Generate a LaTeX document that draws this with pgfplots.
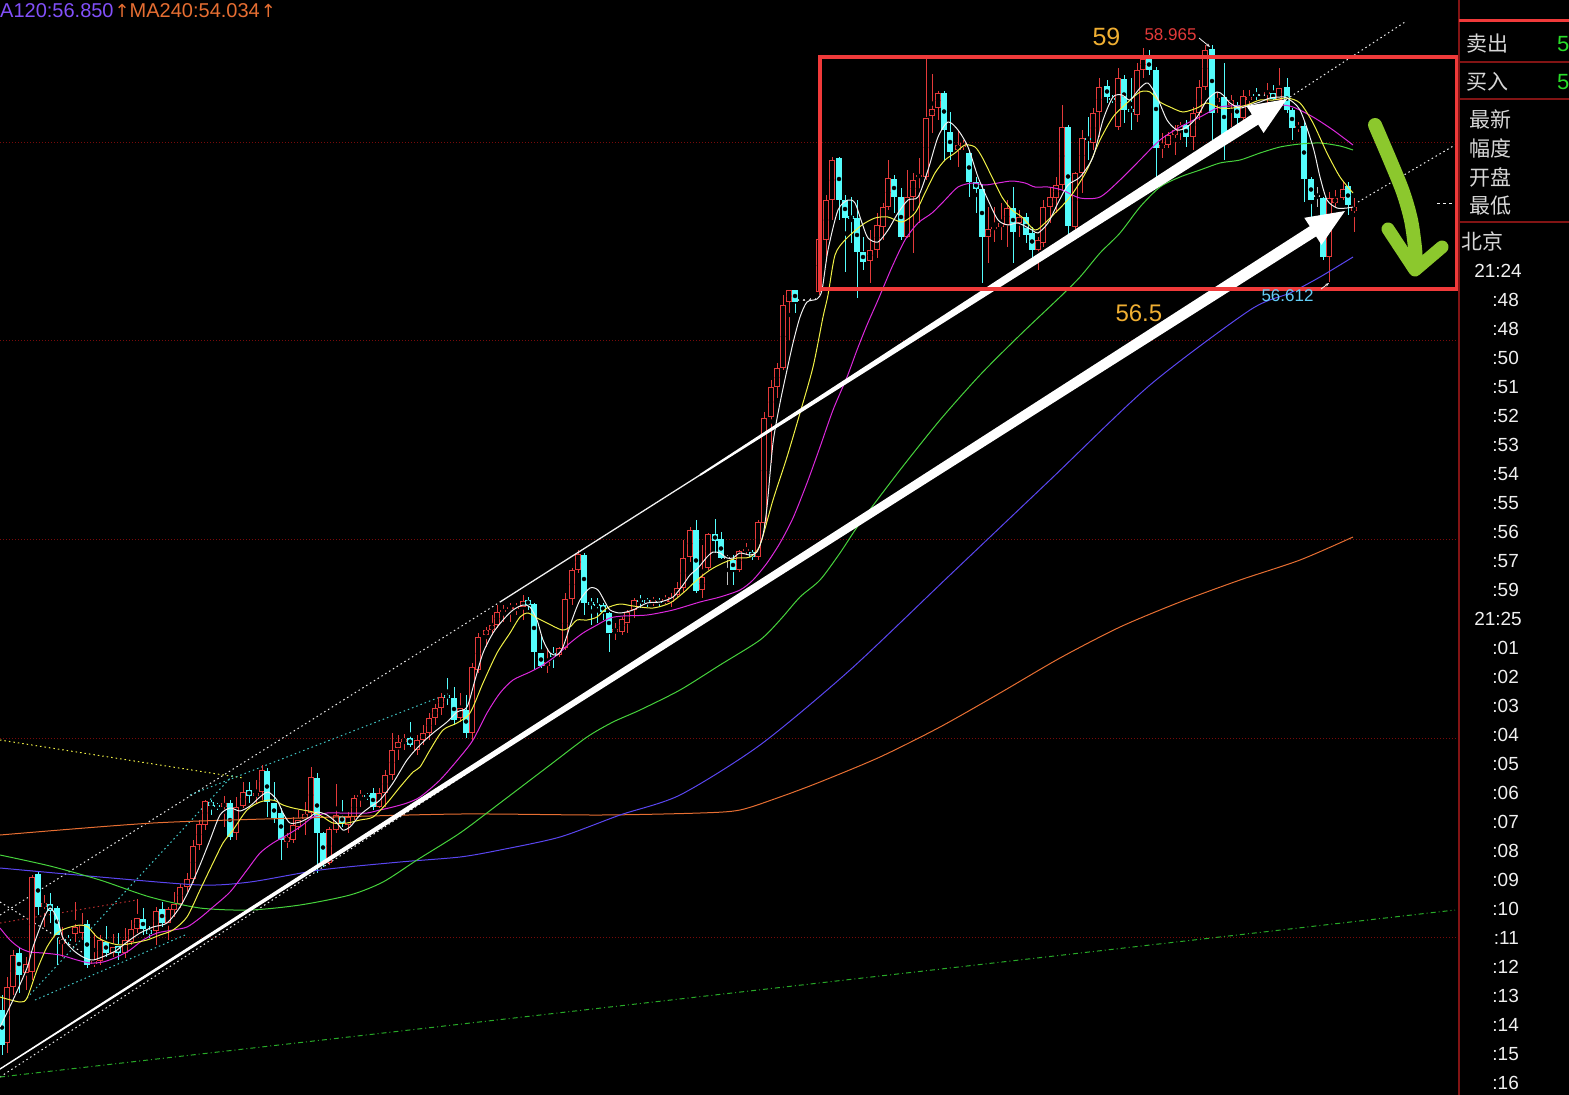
\documentclass[border=0pt]{standalone}
\usepackage{pgfplots}
\pgfplotsset{compat=1.18}
\usepackage{pgfplotstable}
\usetikzlibrary{arrows.meta}
\usepackage{fontspec}
\setmainfont{Liberation Sans}
\newfontfamily\cjk{Noto Sans CJK SC}
\newfontfamily\dejavu{DejaVu Sans}
\newcommand{\fs}[1]{\fontsize{#1pt}{#1pt}\selectfont}
\definecolor{cR}{RGB}{228,58,58}
\definecolor{cC}{RGB}{84,252,252}
\definecolor{cW}{RGB}{240,240,240}
\definecolor{cY}{RGB}{240,240,70}
\definecolor{cM}{RGB}{220,40,220}
\definecolor{cG}{RGB}{70,210,60}
\definecolor{cB}{RGB}{90,70,240}
\definecolor{cO}{RGB}{230,110,50}
\definecolor{cGrid}{RGB}{120,10,10}
\definecolor{cBox}{RGB}{240,58,58}
\definecolor{cArrow}{RGB}{140,200,45}
\definecolor{cGold}{RGB}{240,175,50}
\definecolor{cLab}{RGB}{100,205,245}
\definecolor{cPur}{RGB}{130,80,250}
\definecolor{cTxt}{RGB}{215,215,215}
\definecolor{cPan}{RGB}{130,20,20}
\definecolor{cGn}{RGB}{40,220,40}
\definecolor{cDot}{RGB}{40,170,40}

\pgfplotstableread{
x top bot hi lo t
2 1010 1045 995 1055 0
7 987 1043 977 1053 1
13 955 987 950 995 1
19 953 975 948 993 0
26 964 973 957 990 1
32 877 972 875 980 1
38 874 907 872 915 0
44 903 907 895 927 1
50 904 911 893 923 0
57 908 935 906 965 0
62 940 944 927 957 1
68 939 941 935 945 0
75 927 934 902 942 1
82 925 933 913 940 1
87 924 965 920 968 0
94 961 964 933 967 1
100 940 961 935 965 1
106 942 953 926 957 0
113 947 953 934 957 1
118 946 953 933 960 0
125 940 953 928 958 1
131 929 942 920 945 1
137 918 929 899 933 1
143 919 929 908 935 0
149 930 934 926 938 0
156 911 931 907 945 1
162 909 923 902 927 0
168 909 923 907 940 1
174 904 910 892 917 1
180 887 904 884 908 1
187 879 887 873 892 1
193 846 879 840 883 1
199 824 845 820 850 1
205 801 825 800 830 1
211 802 806 800 815 0
217 805 807 803 810 0
224 803 807 796 827 1
230 803 837 800 840 0
236 807 833 797 840 1
243 792 806 782 808 1
249 790 796 782 803 0
256 793 796 780 803 1
262 770 792 765 800 1
267 771 802 768 817 0
274 803 818 782 823 0
281 813 840 808 860 0
287 837 842 833 848 1
293 825 840 817 843 1
298 820 827 810 830 1
305 814 819 802 835 1
311 777 813 767 818 1
317 778 833 773 873 0
323 833 862 832 867 0
329 829 863 827 865 1
336 815 830 784 833 1
342 816 823 800 827 0
348 817 825 812 833 1
354 798 817 795 820 1
360 795 797 790 807 1
367 795 797 793 800 0
373 793 807 788 810 0
379 793 807 788 808 1
385 775 793 770 807 1
392 750 775 733 780 1
398 742 748 735 760 1
404 739 742 734 750 1
410 738 745 722 747 0
417 740 750 735 755 1
423 733 740 725 745 1
429 718 733 713 740 1
435 708 718 704 725 1
441 697 708 693 715 1
447 695 698 678 705 0
454 698 720 687 725 0
460 708 718 693 722 1
466 710 733 695 738 0
472 667 733 663 740 1
478 637 670 633 673 1
486 630 635 627 647 1
492 625 630 615 635 1
497 612 625 605 628 1
503 610 612 605 622 1
510 607 608 603 622 1
516 607 608 603 615 1
523 601 607 595 620 1
528 600 605 597 610 0
534 604 652 603 670 0
541 653 666 635 668 0
547 662 666 648 673 1
553 653 657 647 668 0
559 648 655 647 657 1
565 599 648 593 650 1
572 570 599 568 605 1
578 554 570 550 573 1
584 555 603 553 615 0
591 602 605 598 625 0
597 604 606 598 623 0
603 605 612 603 620 0
609 613 633 612 652 0
615 629 632 623 640 1
622 619 632 617 635 1
627 612 623 610 633 1
634 600 610 598 618 1
640 600 601 595 608 0
647 600 603 598 607 0
653 600 602 597 606 1
659 601 603 598 606 0
665 599 602 595 604 1
671 597 602 593 607 1
677 588 595 582 598 1
683 558 588 540 593 1
690 530 557 527 562 1
696 530 591 520 593 0
702 577 590 545 598 1
708 534 568 533 570 1
715 534 541 519 553 0
721 539 558 532 559 0
727 557 559 555 585 2
733 560 570 555 585 0
739 551 570 550 572 1
746 549 551 543 555 1
752 552 557 550 560 0
758 522 557 520 560 1
764 418 523 412 527 1
771 387 417 380 463 1
777 368 387 363 398 1
783 305 368 295 370 1
789 290 302 290 340 1
795 290 302 290 313 0
801 299 300 298 301 2
807 299 300 298 301 2
813 298 299 297 300 2
819 239 292 235 295 1
826 200 240 195 262 1
832 160 200 157 220 1
839 158 200 157 220 0
845 200 218 195 272 0
851 216 219 197 243 0
857 218 252 200 298 0
863 252 262 237 270 0
870 250 261 230 283 1
877 225 250 213 258 1
883 207 227 203 240 1
888 178 207 160 210 1
894 179 197 175 213 0
901 197 237 188 240 0
907 197 237 170 238 1
913 180 197 173 253 1
919 175 177 158 223 1
926 118 177 58 180 1
932 109 116 74 133 1
938 93 108 91 120 1
944 93 130 91 160 0
950 132 152 112 160 0
958 145 150 130 167 1
963 143 147 140 150 1
969 153 182 150 197 0
976 182 189 177 213 0
982 189 237 185 283 0
988 229 237 207 263 1
994 227 229 207 242 1
1001 223 227 203 240 1
1007 208 225 200 247 1
1013 208 232 187 263 0
1019 217 223 210 237 1
1026 217 235 213 243 0
1032 233 250 227 263 0
1038 240 250 237 270 1
1043 207 243 200 247 1
1050 197 207 187 223 1
1056 185 198 177 213 1
1062 127 185 105 190 1
1068 127 226 125 235 0
1075 173 227 172 230 1
1082 138 173 130 193 1
1088 138 140 117 160 0
1093 113 143 108 150 1
1099 87 112 78 137 1
1107 86 97 80 103 0
1112 98 100 95 103 0
1118 78 127 68 130 1
1124 79 110 75 123 0
1131 109 112 78 130 0
1137 70 115 63 122 1
1143 59 70 48 78 1
1149 59 70 50 75 0
1156 70 148 67 180 0
1162 145 148 133 158 1
1168 135 145 132 148 1
1175 130 135 125 155 1
1180 125 130 122 140 1
1186 125 137 120 147 0
1193 113 137 107 150 1
1199 87 113 80 120 1
1205 50 87 45 90 1
1212 49 113 45 140 0
1217 98 102 92 113 1
1224 97 137 63 160 0
1231 100 105 95 127 1
1237 105 118 102 125 0
1243 96 118 90 120 1
1249 97 100 90 107 1
1256 94 96 88 100 0
1262 94 95 92 96 2
1267 92 93 83 103 1
1273 93 99 85 100 0
1279 88 100 68 107 1
1287 87 110 78 113 0
1292 110 128 108 140 0
1298 126 128 122 132 1
1304 126 179 122 202 0
1311 179 200 177 227 0
1317 195 196 187 207 2
1323 198 257 197 260 0
1329 198 257 192 282 1
1335 198 203 190 207 1
1343 189 198 182 200 1
1348 186 205 182 215 0
1354 207 211 198 232 1
}\candles

\pgfplotsset{
  wick/.style 2 args={only marks, mark=none, forget plot,
    restrict expr to domain={\thisrow{t}}{#1:#1},
    error bars/.cd, y dir=both, y explicit, error mark=none,
    error bar style={line width=1pt, draw=#2, solid}},
  body/.style 2 args={only marks, mark=none, forget plot,
    restrict expr to domain={\thisrow{t}}{#1:#1},
    error bars/.cd, y dir=both, y explicit, error mark=none,
    error bar style={line width=5.5pt, draw=#2, solid}},
  inner/.style={only marks, mark=none, forget plot,
    restrict expr to domain={\thisrow{t}}{1:1},
    error bars/.cd, y dir=both, y explicit, error mark=none,
    error bar style={line width=3.5pt, draw=black, solid}},
  ma/.style={line width=1pt, smooth, tension=0.45, no marks, forget plot},
}

\begin{document}
\begin{tikzpicture}
\begin{axis}[width=1569pt, height=1095pt, scale only axis,
  xmin=0, xmax=1569, ymin=0, ymax=1095, y dir=reverse, hide axis,
  clip=true, clip mode=individual]
\fill[black] (rel axis cs:0,0) rectangle (rel axis cs:1,1);

% grid
\addplot[cGrid, line width=1pt, dash pattern=on 1pt off 2pt, forget plot] coordinates {(0,142) (1457,142)};
\addplot[cGrid, line width=1pt, dash pattern=on 1pt off 2pt, forget plot] coordinates {(0,340) (1457,340)};
\addplot[cGrid, line width=1pt, dash pattern=on 1pt off 2pt, forget plot] coordinates {(0,539) (1457,539)};
\addplot[cGrid, line width=1pt, dash pattern=on 1pt off 2pt, forget plot] coordinates {(0,738) (1457,738)};
\addplot[cGrid, line width=1pt, dash pattern=on 1pt off 2pt, forget plot] coordinates {(0,937) (1457,937)};

% dotted trend lines
\addplot[cW, line width=1pt, dash pattern=on 1.5pt off 3pt, forget plot] coordinates {(0,915) (500,602)};
\addplot[cW, line width=1pt, dash pattern=on 1.5pt off 3pt, forget plot] coordinates {(1290,97) (1405,22)};
\addplot[cW, line width=1pt, dash pattern=on 1.5pt off 3pt, forget plot] coordinates {(1358,202) (1455,145)};
\addplot[cW, line width=1pt, dash pattern=on 3pt off 3pt, forget plot] coordinates {(1437,203) (1456,203)};
\addplot[cW, line width=1pt, dash pattern=on 1.5pt off 3pt, forget plot] coordinates {(0,1077) (700,622)};
\addplot[cW, line width=1pt, dash pattern=on 1.5pt off 3pt, forget plot] coordinates {(0,902) (90,957)};
\addplot[cY, line width=1pt, dash pattern=on 1.5pt off 3pt, forget plot] coordinates {(0,740) (243,778)};
\addplot[cR!80!black, line width=1pt, dash pattern=on 1.5pt off 3pt, forget plot] coordinates {(0,923) (137,900)};
\addplot[cC!80!black, line width=1pt, dash pattern=on 1.5pt off 3pt, forget plot] coordinates {(27,998) (233,775)};
\addplot[cC!80!black, line width=1pt, dash pattern=on 1.5pt off 3pt, forget plot] coordinates {(190,795) (440,697)};
\addplot[cC!80!black, line width=1pt, dash pattern=on 1.5pt off 3pt, forget plot] coordinates {(35,1000) (185,935)};
\addplot[cDot, line width=1pt, dash pattern=on 5pt off 3pt on 1pt off 3pt, forget plot] coordinates {(0,1077) (1455,910)};

% candles
\addplot[wick={1}{cR}] table[x=x, y expr={(\thisrow{hi}+\thisrow{lo})/2}, y error expr={(\thisrow{lo}-\thisrow{hi})/2}] {\candles};
\addplot[wick={0}{cC}] table[x=x, y expr={(\thisrow{hi}+\thisrow{lo})/2}, y error expr={(\thisrow{lo}-\thisrow{hi})/2}] {\candles};
\addplot[wick={2}{cW!80!black}] table[x=x, y expr={(\thisrow{hi}+\thisrow{lo})/2}, y error expr={(\thisrow{lo}-\thisrow{hi})/2}] {\candles};
\addplot[body={1}{cR}] table[x=x, y expr={(\thisrow{top}+\thisrow{bot})/2}, y error expr={max((\thisrow{bot}-\thisrow{top})/2,0.7)}] {\candles};
\addplot[inner] table[x=x, y expr={(\thisrow{top}+\thisrow{bot})/2}, y error expr={max((\thisrow{bot}-\thisrow{top})/2-1,0)}] {\candles};
\addplot[body={0}{cC}] table[x=x, y expr={(\thisrow{top}+\thisrow{bot})/2}, y error expr={max((\thisrow{bot}-\thisrow{top})/2,0.7)}] {\candles};
\addplot[body={2}{cW!85!black}] table[x=x, y expr={(\thisrow{top}+\thisrow{bot})/2}, y error expr={max((\thisrow{bot}-\thisrow{top})/2,0.7)}] {\candles};

% moving averages
\addplot[ma, cO] coordinates {(0,835) (153,823) (300,818) (460,814) (600,815) (700,813) (740,810) (780,797) (820,782) (880,757) (940,727) (1000,693) (1060,658) (1120,627) (1180,602) (1240,580) (1300,560) (1353,537)};
\addplot[ma, cB] coordinates {(0,868) (100,877) (200,885) (250,882) (320,870) (400,862) (460,857) (500,850) (560,837) (620,815) (680,795) (760,745) (850,670) (950,575) (1050,480) (1150,385) (1250,310) (1290,293) (1320,277) (1353,257)};
\addplot[ma, cG] coordinates {(0,855) (50,866) (100,880) (150,897) (200,908) (250,910) (300,905) (350,895) (383,882) (417,860) (460,833) (500,803) (550,765) (587,737) (613,722) (640,710) (680,690) (720,665) (760,640) (780,620) (800,597) (820,580) (840,553) (860,523) (900,470) (940,420) (980,375) (1020,335) (1060,297) (1080,277) (1100,253) (1120,233) (1140,207) (1160,187) (1180,177) (1200,170) (1220,163) (1240,160) (1260,153) (1280,147) (1300,144) (1320,143) (1340,146) (1353,150)};
\addplot[ma, cM] coordinates {(0,928) (10,940) (20,948) (30,952) (43,953) (60,955) (77,960) (90,963) (103,962) (117,957) (130,950) (143,940) (157,933) (173,930) (187,927) (200,918) (213,907) (230,892) (247,870) (260,853) (273,843) (287,835) (300,827) (313,817) (327,813) (340,813) (353,813) (367,813) (380,810) (393,807) (407,803) (420,797) (440,780) (460,757) (473,740) (487,713) (500,693) (513,680) (530,672) (543,665) (557,655) (570,643) (583,633) (597,625) (610,618) (623,616) (647,615) (673,610) (700,602) (720,597) (740,590) (753,580) (767,563) (780,543) (793,518) (807,483) (820,447) (833,410) (847,377) (857,350) (867,325) (878,300) (892,267) (905,240) (918,223) (932,213) (945,200) (958,187) (972,183) (985,185) (998,183) (1012,181) (1025,183) (1035,187) (1048,187) (1062,190) (1080,198) (1100,197) (1120,180) (1140,160) (1160,140) (1180,127) (1200,117) (1220,107) (1240,106) (1260,107) (1280,105) (1293,107) (1313,117) (1333,130) (1353,145)};
\addplot[ma, cY] coordinates {(0,997) (20,1002) (27,998) (37,970) (47,947) (57,933) (67,928) (80,925) (88,927) (97,937) (107,942) (120,945) (133,943) (147,940) (160,935) (173,930) (187,917) (200,890) (213,863) (223,843) (233,830) (247,810) (260,802) (273,800) (283,805) (293,808) (303,810) (313,812) (323,817) (333,823) (347,823) (360,820) (373,817) (387,803) (400,787) (413,772) (420,767) (430,750) (443,730) (457,723) (470,713) (483,683) (497,653) (510,633) (520,617) (528,613) (537,618) (547,623) (562,630) (570,627) (577,620) (587,620) (597,617) (607,608) (620,604) (633,606) (653,608) (670,603) (683,593) (697,580) (710,570) (723,563) (737,558) (750,557) (760,545) (773,500) (787,457) (800,413) (813,367) (823,317) (828,295) (835,255) (845,240) (862,225) (875,218) (888,217) (902,222) (915,213) (925,193) (935,173) (945,160) (955,153) (965,145) (975,147) (982,157) (992,177) (1002,197) (1012,210) (1022,217) (1035,230) (1045,223) (1055,213) (1063,205) (1073,193) (1087,170) (1100,140) (1113,117) (1127,103) (1140,92) (1150,92) (1160,102) (1170,107) (1183,112) (1197,108) (1207,103) (1220,108) (1233,108) (1247,105) (1260,100) (1273,100) (1287,98) (1300,103) (1313,123) (1327,153) (1340,177) (1353,193)};
\addplot[ma, cW] coordinates {(0,1027) (13,1000) (27,968) (33,947) (43,920) (50,908) (57,918) (63,938) (73,950) (83,957) (93,960) (107,955) (117,950) (127,942) (140,933) (153,927) (167,923) (180,907) (190,888) (200,865) (210,840) (220,815) (230,808) (240,811) (250,806) (260,797) (268,792) (277,800) (283,813) (290,823) (300,822) (310,817) (317,812) (327,815) (337,823) (343,830) (350,827) (360,815) (370,807) (380,800) (393,783) (407,760) (420,745) (433,733) (447,722) (457,712) (467,707) (475,680) (483,653) (493,633) (503,620) (513,610) (523,605) (530,607) (537,620) (543,640) (550,653) (557,655) (563,647) (572,620) (580,600) (590,588) (598,590) (605,602) (610,610) (620,613) (633,610) (647,603) (660,602) (673,597) (683,585) (690,575) (698,568) (707,557) (713,552) (720,553) (727,558) (733,558) (740,553) (750,555) (757,552) (763,535) (767,507) (773,443) (780,403) (787,370) (793,343) (800,317) (807,302) (817,299) (822,290) (828,250) (838,210) (848,200) (855,203) (862,223) (868,238) (878,242) (888,230) (898,213) (908,200) (918,197) (928,170) (938,137) (948,122) (958,130) (968,147) (978,177) (988,200) (998,220) (1008,225) (1018,223) (1032,230) (1038,233) (1048,223) (1058,203) (1068,185) (1080,177) (1093,157) (1103,120) (1113,97) (1122,95) (1130,100) (1140,88) (1148,83) (1157,97) (1167,120) (1177,130) (1187,127) (1197,117) (1207,100) (1217,92) (1223,95) (1230,103) (1240,108) (1250,105) (1260,102) (1270,98) (1280,97) (1287,98) (1300,110) (1313,147) (1320,177) (1327,200) (1337,208) (1347,208) (1353,207)};

% thin trend line parts
\addplot[cW, line width=1.3pt, forget plot] coordinates {(500,602) (700,475)};

% big white arrows
\addplot[fill=white, draw=none, forget plot] coordinates {(700.5,475.8) (1258.2,124.6) (1263.6,133.0) (1287,99) (1246.4,106.0) (1251.8,114.4) (699.5,474.2)};
\addplot[fill=white, draw=none, forget plot] coordinates {(0,1069.8) (1316.1,236.4) (1321.5,244.8) (1345,211) (1304.3,217.8) (1309.7,226.2) (0,1068.2)};

% red rectangle
\addplot[cBox, line width=4pt, line join=miter, forget plot] coordinates {(820,57) (1457,57) (1457,289) (820,289) (820,57) (1457,57)};

% green hand arrow
\addplot[cArrow, line width=14pt, line cap=round, line join=round, smooth, forget plot] coordinates {(1375,125) (1390,160) (1403,192) (1411,220) (1415,248) (1416,268)};
\addplot[cArrow, line width=13pt, line cap=round, line join=round, forget plot] coordinates {(1388,229) (1415,270) (1442,247)};

% small pointer arrows
\addplot[cW, line width=0.8pt, -{Stealth[length=4pt]}, forget plot] coordinates {(1199,38) (1210,47)};
\addplot[cW, line width=0.8pt, -{Stealth[length=4pt]}, forget plot] coordinates {(1321,289) (1329,283)};

% annotations
\node[anchor=base west, text=cGold, font=\fs{25}] at (axis cs:1089,45) {59};
\node[anchor=base west, text=cR, font=\fs{17}] at (axis cs:1141,40) {58.965};
\node[anchor=base west, text=cGold, font=\fs{24}] at (axis cs:1112,321) {56.5};
\node[anchor=base west, text=cLab, font=\fs{17}] at (axis cs:1258,301) {56.612};

% top legend
\node[anchor=base west, inner sep=0pt, font=\fs{20}] at (axis cs:0,17) {\color{cPur}A120:56.850{\dejavu\fs{18}\color{cO}\kern1pt↑}\color{cO}MA240:54.034{\dejavu\fs{18}\kern1pt↑}};

% right panel
\addplot[cPan, line width=1.2pt, forget plot] coordinates {(1459,0) (1459,1095)};
\addplot[cBox, line width=3pt, forget plot] coordinates {(1459,20) (1569,20)};
\addplot[cPan, line width=1.2pt, forget plot] coordinates {(1459,62) (1569,62)};
\addplot[cPan, line width=1.2pt, forget plot] coordinates {(1459,99) (1569,99)};
\addplot[cPan, line width=1.2pt, forget plot] coordinates {(1459,222) (1569,222)};
\node[anchor=west, inner sep=0pt, text=cTxt, font=\cjk\fs{21}] at (axis cs:1466,44) {卖出};
\node[anchor=west, inner sep=0pt, text=cTxt, font=\cjk\fs{21}] at (axis cs:1466,82) {买入};
\node[anchor=west, inner sep=0pt, text=cGn, font=\fs{22}] at (axis cs:1557,44) {5};
\node[anchor=west, inner sep=0pt, text=cGn, font=\fs{22}] at (axis cs:1557,82) {5};
\node[anchor=west, inner sep=0pt, text=cTxt, font=\cjk\fs{21}] at (axis cs:1469,119) {最新};
\node[anchor=west, inner sep=0pt, text=cTxt, font=\cjk\fs{21}] at (axis cs:1469,148) {幅度};
\node[anchor=west, inner sep=0pt, text=cTxt, font=\cjk\fs{21}] at (axis cs:1469,177) {开盘};
\node[anchor=west, inner sep=0pt, text=cTxt, font=\cjk\fs{21}] at (axis cs:1469,206) {最低};
\node[anchor=west, inner sep=0pt, text=cTxt, font=\cjk\fs{21}] at (axis cs:1461,241) {北京};
\node[anchor=base east, inner sep=0pt, text=cW, font=\fs{19}] at (axis cs:1522,277) {21:24};
\node[anchor=base east, inner sep=0pt, text=cW, font=\fs{19}] at (axis cs:1519,306) {:48};
\node[anchor=base east, inner sep=0pt, text=cW, font=\fs{19}] at (axis cs:1519,335) {:48};
\node[anchor=base east, inner sep=0pt, text=cW, font=\fs{19}] at (axis cs:1519,364) {:50};
\node[anchor=base east, inner sep=0pt, text=cW, font=\fs{19}] at (axis cs:1519,393) {:51};
\node[anchor=base east, inner sep=0pt, text=cW, font=\fs{19}] at (axis cs:1519,422) {:52};
\node[anchor=base east, inner sep=0pt, text=cW, font=\fs{19}] at (axis cs:1519,451) {:53};
\node[anchor=base east, inner sep=0pt, text=cW, font=\fs{19}] at (axis cs:1519,480) {:54};
\node[anchor=base east, inner sep=0pt, text=cW, font=\fs{19}] at (axis cs:1519,509) {:55};
\node[anchor=base east, inner sep=0pt, text=cW, font=\fs{19}] at (axis cs:1519,538) {:56};
\node[anchor=base east, inner sep=0pt, text=cW, font=\fs{19}] at (axis cs:1519,567) {:57};
\node[anchor=base east, inner sep=0pt, text=cW, font=\fs{19}] at (axis cs:1519,596) {:59};
\node[anchor=base east, inner sep=0pt, text=cW, font=\fs{19}] at (axis cs:1522,625) {21:25};
\node[anchor=base east, inner sep=0pt, text=cW, font=\fs{19}] at (axis cs:1519,654) {:01};
\node[anchor=base east, inner sep=0pt, text=cW, font=\fs{19}] at (axis cs:1519,683) {:02};
\node[anchor=base east, inner sep=0pt, text=cW, font=\fs{19}] at (axis cs:1519,712) {:03};
\node[anchor=base east, inner sep=0pt, text=cW, font=\fs{19}] at (axis cs:1519,741) {:04};
\node[anchor=base east, inner sep=0pt, text=cW, font=\fs{19}] at (axis cs:1519,770) {:05};
\node[anchor=base east, inner sep=0pt, text=cW, font=\fs{19}] at (axis cs:1519,799) {:06};
\node[anchor=base east, inner sep=0pt, text=cW, font=\fs{19}] at (axis cs:1519,828) {:07};
\node[anchor=base east, inner sep=0pt, text=cW, font=\fs{19}] at (axis cs:1519,857) {:08};
\node[anchor=base east, inner sep=0pt, text=cW, font=\fs{19}] at (axis cs:1519,886) {:09};
\node[anchor=base east, inner sep=0pt, text=cW, font=\fs{19}] at (axis cs:1519,915) {:10};
\node[anchor=base east, inner sep=0pt, text=cW, font=\fs{19}] at (axis cs:1519,944) {:11};
\node[anchor=base east, inner sep=0pt, text=cW, font=\fs{19}] at (axis cs:1519,973) {:12};
\node[anchor=base east, inner sep=0pt, text=cW, font=\fs{19}] at (axis cs:1519,1002) {:13};
\node[anchor=base east, inner sep=0pt, text=cW, font=\fs{19}] at (axis cs:1519,1031) {:14};
\node[anchor=base east, inner sep=0pt, text=cW, font=\fs{19}] at (axis cs:1519,1060) {:15};
\node[anchor=base east, inner sep=0pt, text=cW, font=\fs{19}] at (axis cs:1519,1089) {:16};
\end{axis}
\pgfresetboundingbox
\path[use as bounding box] (current axis.south west) rectangle (current axis.north east);
\end{tikzpicture}
\end{document}
